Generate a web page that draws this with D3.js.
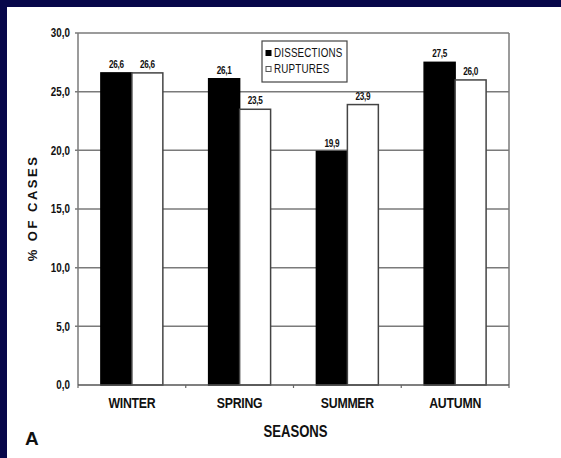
<!DOCTYPE html>
<html>
<head>
<meta charset="utf-8">
<script src="https://d3js.org/d3.v7.min.js"></script>
<style>
  body { margin: 0; background: #fff; }
  svg { display: block; }
</style>
</head>
<body>
<div id="chart"></div>
<script>
// data
var seasons = ["WINTER", "SPRING", "SUMMER", "AUTUMN"];
var series = ["DISSECTIONS", "RUPTURES"];
var dissections = [26.6, 26.1, 19.9, 27.5];
var ruptures = [26.6, 23.5, 23.9, 26.0];
var yTicks = [0, 5, 10, 15, 20, 25, 30];

var width = 561, height = 458;
var margin = {top: 33, right: 52, bottom: 73, left: 78};
var font = "'Liberation Sans', Arial, sans-serif";
var squeeze = 0.82; // the original uses a narrow face

var svg = d3.select("#chart")
    .append("svg")
    .attr("width", width)
    .attr("height", height);

// navy frame on top and left
svg.append("rect").attr("width", width).attr("height", height).attr("fill", "#07074a");
svg.append("rect").attr("x", 7).attr("y", 7).attr("width", width - 7).attr("height", height - 7).attr("fill", "#fff");

var x0 = d3.scaleBand()
    .domain(seasons)
    .range([margin.left, width - margin.right])
    .paddingInner(0.425)
    .paddingOuter(0.2125);

var x1 = d3.scaleBand()
    .domain(series)
    .range([0, x0.bandwidth()]);

var y = d3.scaleLinear()
    .domain([0, 30])
    .range([height - margin.bottom, margin.top]);

var fmt = function(v) { return d3.format(".1f")(v).replace(".", ","); };

// narrow text: translate then squeeze horizontally
function narrowText(sel, fx, fy) {
  return sel.append("text")
      .attr("transform", function(d, i) {
        return "translate(" + fx(d, i) + "," + fy(d, i) + ") scale(" + squeeze + ",1)";
      })
      .attr("font-family", font)
      .attr("fill", "#111");
}

// grid lines
svg.append("g")
    .selectAll("line")
    .data(yTicks.slice(1))
    .enter().append("line")
    .attr("x1", margin.left - 3)
    .attr("x2", width - margin.right)
    .attr("y1", function(d) { return y(d); })
    .attr("y2", function(d) { return y(d); })
    .attr("stroke", "#7a7a7a")
    .attr("stroke-width", 1.5);

// left + right frame
svg.append("line")
    .attr("x1", margin.left).attr("x2", margin.left)
    .attr("y1", y(30)).attr("y2", y(0))
    .attr("stroke", "#7a7a7a").attr("stroke-width", 1.5);
svg.append("line")
    .attr("x1", width - margin.right).attr("x2", width - margin.right)
    .attr("y1", y(30)).attr("y2", y(0))
    .attr("stroke", "#7a7a7a").attr("stroke-width", 1.5);

// y tick labels
narrowText(svg.append("g").selectAll("g").data(yTicks).enter(),
    function() { return margin.left - 8; },
    function(d) { return y(d); })
    .attr("dy", "0.35em")
    .attr("text-anchor", "end")
    .attr("font-weight", "bold")
    .attr("font-size", 12)
    .text(function(d) { return fmt(d); });

// bars
var groups = svg.append("g")
    .selectAll("g")
    .data(seasons)
    .enter().append("g")
    .attr("transform", function(d) { return "translate(" + x0(d) + ",0)"; });

var rows = function(d, i) {
    return [
      {key: "DISSECTIONS", value: dissections[i]},
      {key: "RUPTURES", value: ruptures[i]}
    ];
};

groups.selectAll("rect")
    .data(rows)
    .enter().append("rect")
    .attr("x", function(d) { return x1(d.key); })
    .attr("y", function(d) { return y(d.value); })
    .attr("width", x1.bandwidth())
    .attr("height", function(d) { return y(0) - y(d.value); })
    .attr("fill", function(d) { return d.key == "DISSECTIONS" ? "#000" : "#fff"; })
    .attr("stroke", function(d) { return d.key == "DISSECTIONS" ? "#000" : "#444"; })
    .attr("stroke-width", 1.5);

narrowText(groups.selectAll("text").data(rows).enter(),
    function(d) { return x1(d.key) + x1.bandwidth() / 2; },
    function(d) { return y(d.value) - 5; })
    .attr("text-anchor", "middle")
    .attr("font-weight", "bold")
    .attr("font-size", 10)
    .attr("letter-spacing", -0.3)
    .text(function(d) { return fmt(d.value); });

// bottom axis
svg.append("line")
    .attr("x1", margin.left).attr("x2", width - margin.right)
    .attr("y1", y(0)).attr("y2", y(0))
    .attr("stroke", "#555").attr("stroke-width", 1.5);

var step = x0.step();
svg.append("g")
    .selectAll("line")
    .data(d3.range(seasons.length + 1))
    .enter().append("line")
    .attr("x1", function(i) { return margin.left + i * step; })
    .attr("x2", function(i) { return margin.left + i * step; })
    .attr("y1", y(0))
    .attr("y2", y(0) + 3)
    .attr("stroke", "#666").attr("stroke-width", 1.2);

narrowText(svg.append("g").selectAll("g").data(seasons).enter(),
    function(d) { return x0(d) + x0.bandwidth() / 2; },
    function() { return y(0) + 23; })
    .attr("text-anchor", "middle")
    .attr("font-weight", "bold")
    .attr("font-size", 15)
    .attr("letter-spacing", -0.3)
    .text(function(d) { return d; });

// axis titles
narrowText(svg.append("g").selectAll("g").data(["SEASONS"]).enter(),
    function() { return (margin.left + width - margin.right) / 2 + 2; },
    function() { return 437; })
    .attr("text-anchor", "middle")
    .attr("font-weight", "bold")
    .attr("font-size", 16)
    .text(function(d) { return d; });

svg.append("text")
    .attr("transform", "translate(37," + (y(15) - 1) + ") rotate(-90)")
    .attr("text-anchor", "middle")
    .attr("font-family", font)
    .attr("font-weight", "bold")
    .attr("font-size", 13)
    .attr("letter-spacing", 2.5)
    .attr("fill", "#111")
    .text("% OF CASES");

// legend
var legend = svg.append("g").attr("transform", "translate(262,41)");
legend.append("rect")
    .attr("width", 85).attr("height", 41)
    .attr("fill", "#fff").attr("stroke", "#444").attr("stroke-width", 1.2);

var item = legend.selectAll("g")
    .data(series)
    .enter().append("g")
    .attr("transform", function(d, i) { return "translate(0," + (12 + i * 16) + ")"; });

item.append("rect")
    .attr("x", 4).attr("y", -2.5)
    .attr("width", 5).attr("height", 5)
    .attr("fill", function(d) { return d == "DISSECTIONS" ? "#000" : "#fff"; })
    .attr("stroke", function(d) { return d == "DISSECTIONS" ? "#000" : "#555"; })
    .attr("stroke-width", 1);

narrowText(item,
    function() { return 12; },
    function() { return 0; })
    .attr("dy", "0.36em")
    .attr("font-size", 12)
    .attr("letter-spacing", 0.2)
    .text(function(d) { return d; });

// panel letter
svg.append("text")
    .attr("x", 25)
    .attr("y", 445)
    .attr("font-family", font)
    .attr("font-weight", "bold")
    .attr("font-size", 19)
    .attr("fill", "#111")
    .text("A");
</script>
</body>
</html>
